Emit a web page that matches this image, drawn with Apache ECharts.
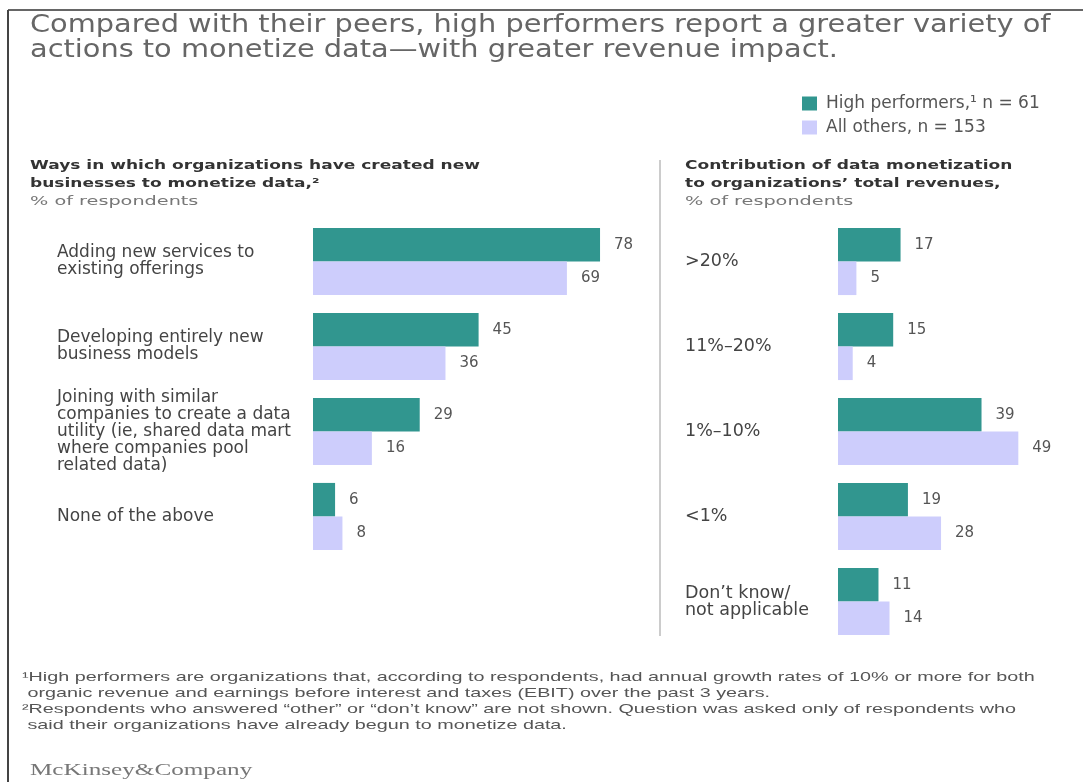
<!DOCTYPE html>
<html>
<head>
<meta charset="utf-8">
<script src="https://cdn.jsdelivr.net/npm/echarts@6/dist/echarts.min.js"></script>
<style>html,body{margin:0;padding:0;background:#fff}#c{width:1083px;height:782px}</style>
</head>
<body>
<div id="c"></div>
<script>
const leftCategories = ['Adding new services to\nexisting offerings', 'Developing entirely new\nbusiness models', 'Joining with similar\ncompanies to create a data\nutility (ie, shared data mart\nwhere companies pool\nrelated data)', 'None of the above'];
const leftHigh = [78, 45, 29, 6];
const leftOthers = [69, 36, 16, 8];
const rightCategories = ['>20%', '11%–20%', '1%–10%', '<1%', 'Don’t know/\nnot applicable'];
const rightHigh = [17, 15, 39, 19, 11];
const rightOthers = [5, 4, 49, 28, 14];
const seriesNames = ['High performers,\u00b9 n = 61', 'All others, n = 153'];

const TEAL = '#31968f';
const LAV = '#cdcdfc';
const FONT = 'DejaVu Sans';

const chart = echarts.init(document.getElementById('c'));

function barSeries(name, data, color, idx) {
  return {
    type: 'bar', name: name, data: data, xAxisIndex: idx, yAxisIndex: idx,
    barGap: '0%', barCategoryGap: '21%',
    itemStyle: { color: color },
    label: { show: true, position: 'right', distance: 14, color: '#555', fontFamily: FONT, fontSize: 15 },
    emphasis: { disabled: true }
  };
}
function yAx(cats, margin, idx, size) {
  return {
    type: 'category', data: cats, inverse: true, gridIndex: idx,
    axisLine: { show: false }, axisTick: { show: false },
    axisLabel: { align: 'left', margin: margin, color: '#444', fontFamily: FONT, fontSize: size, lineHeight: 17 }
  };
}
function xAx(max, idx) {
  return { type: 'value', min: 0, max: max, gridIndex: idx, show: false, splitLine: { show: false } };
}
function txt(x, y, text, font, fill, lh, sx) {
  return { type: 'text', x: x, y: y, scaleX: sx, silent: true,
    style: { text: text, font: font, fill: fill, lineHeight: lh, verticalAlign: 'top', align: 'left' } };
}

chart.setOption({
  animation: false,
  textStyle: { fontFamily: FONT },
  grid: [
    { left: 313, top: 219, width: 80 * 3.68, height: 340 },
    { left: 838, top: 219, width: 60 * 3.68, height: 425 }
  ],
  xAxis: [xAx(80, 0), xAx(60, 1)],
  yAxis: [yAx(leftCategories, 256, 0, 17), yAx(rightCategories, 153, 1, 17.5)],
  legend: {
    orient: 'vertical', left: 802, top: 95, padding: 0, itemWidth: 15, itemHeight: 14, itemGap: 7,
    icon: 'rect', selectedMode: false,
    textStyle: { color: '#555', fontFamily: FONT, fontSize: 17, padding: [0, 0, 0, 4] },
    data: seriesNames
  },
  series: [
    barSeries(seriesNames[0], leftHigh, TEAL, 0),
    barSeries(seriesNames[1], leftOthers, LAV, 0),
    barSeries(seriesNames[0], rightHigh, TEAL, 1),
    barSeries(seriesNames[1], rightOthers, LAV, 1)
  ],
  graphic: [
    { type: 'line', silent: true, shape: { x1: 8, y1: 10, x2: 1083, y2: 10 }, style: { stroke: '#666', lineWidth: 2 } },
    { type: 'line', silent: true, shape: { x1: 8, y1: 10, x2: 8, y2: 782 }, style: { stroke: '#444', lineWidth: 2 } },
    { type: 'line', silent: true, shape: { x1: 660, y1: 160, x2: 660, y2: 636 }, style: { stroke: '#ccc', lineWidth: 2 } },
    txt(30, 13, 'Compared with their peers, high performers report a greater variety of\nactions to monetize data\u2014with greater revenue impact.', '24px "DejaVu Sans"', '#666', 25, 1.2),
    txt(30, 157, 'Ways in which organizations have created new\nbusinesses to monetize data,\u00b2', 'bold 13px "DejaVu Sans"', '#333', 18, 1.31),
    txt(30, 193, '% of respondents', '13px "DejaVu Sans"', '#777', 18, 1.48),
    txt(685, 157, 'Contribution of data monetization\nto organizations\u2019 total revenues,', 'bold 13px "DejaVu Sans"', '#333', 18, 1.31),
    txt(685, 193, '% of respondents', '13px "DejaVu Sans"', '#777', 18, 1.48),
    txt(22, 669, '\u00b9High performers are organizations that, according to respondents, had annual growth rates of 10% or more for both\n organic revenue and earnings before interest and taxes (EBIT) over the past 3 years.\n\u00b2Respondents who answered \u201cother\u201d or \u201cdon\u2019t know\u201d are not shown. Question was asked only of respondents who\n said their organizations have already begun to monetize data.', '13px "Liberation Sans"', '#555', 16, 1.52),
    txt(30, 761, 'McKinsey&Company', '17px "Liberation Serif"', '#777', 20, 1.48)
  ]
});
</script>
</body>
</html>
